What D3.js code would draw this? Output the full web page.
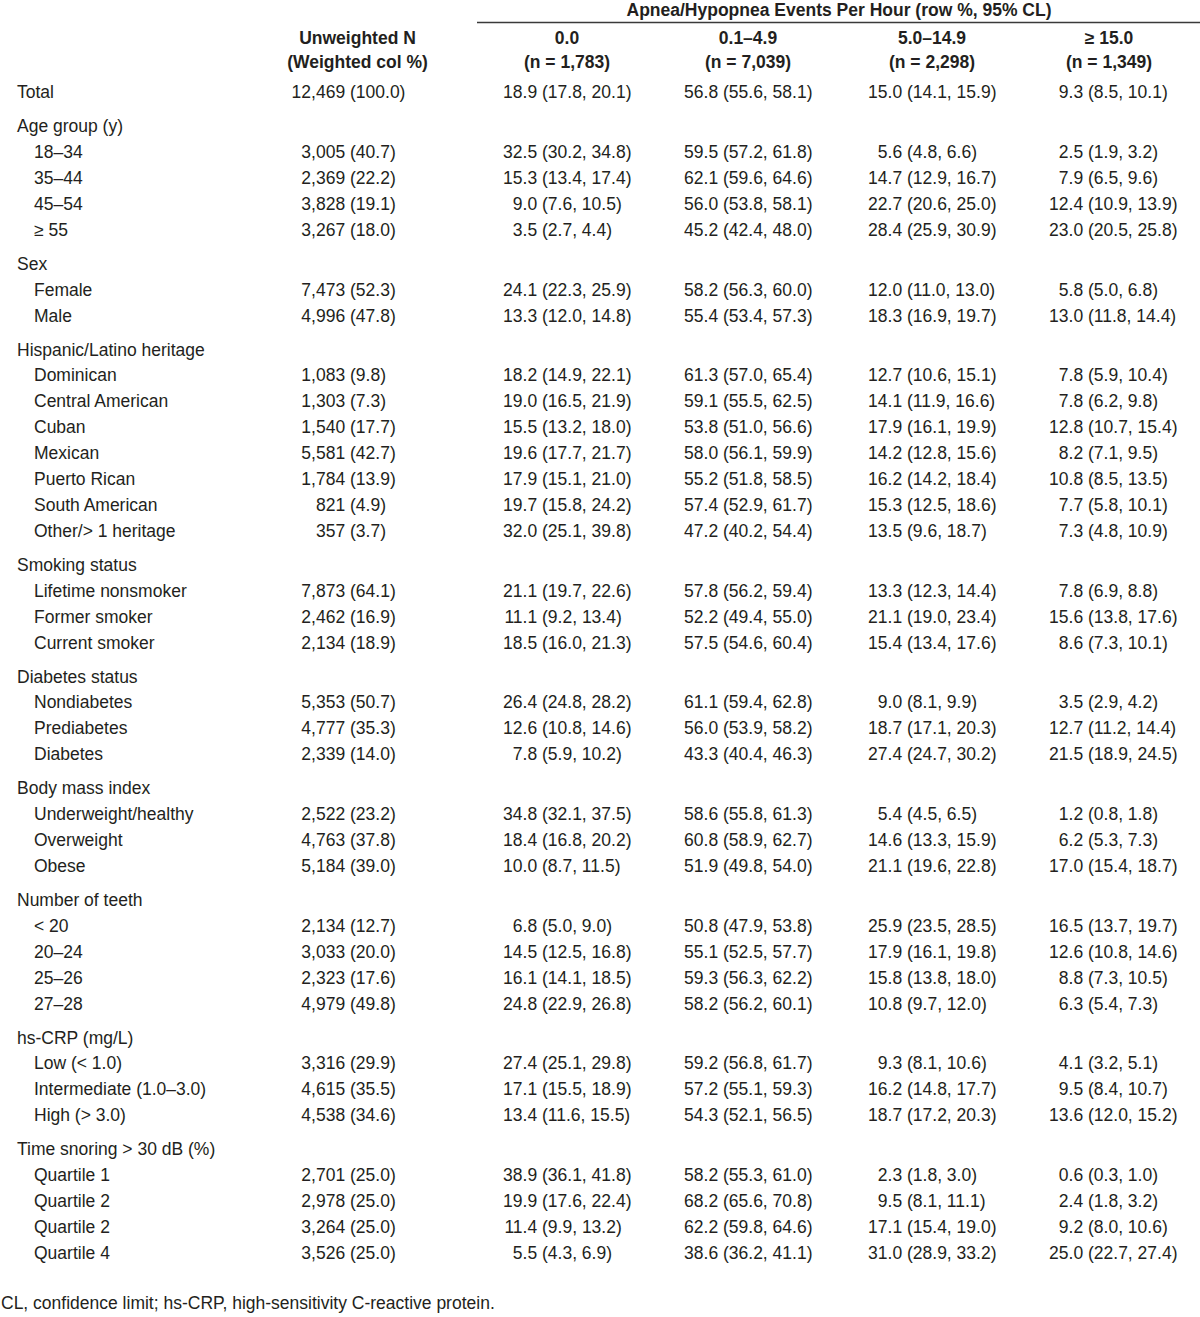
<!DOCTYPE html>
<html>
<head>
<meta charset="utf-8">
<script src="https://cdn.jsdelivr.net/npm/d3@7"></script>
<style>
  html, body { margin: 0; padding: 0; background: #fff; }
  svg text { font-family: "Liberation Sans", Arial, Helvetica, sans-serif; fill: #231f20; }
</style>
</head>
<body>
<svg id="chart" width="1200" height="1317"></svg>
<script>
// ---------- DATA ----------
const spannerTitle = "Apnea/Hypopnea Events Per Hour (row %, 95% CL)";
const nHeader = ["Unweighted N", "(Weighted col %)"];
const categories = ["0.0", "0.1–4.9", "5.0–14.9", "≥ 15.0"];
const categoryN = [1783, 7039, 2298, 1349];

const groupLabels = [
  "Age group (y)", "Sex", "Hispanic/Latino heritage", "Smoking status",
  "Diabetes status", "Body mass index", "Number of teeth", "hs-CRP (mg/L)",
  "Time snoring > 30 dB (%)"
];

const rowLabels = [
  "Total",
  "18–34", "35–44", "45–54", "≥ 55",
  "Female", "Male",
  "Dominican", "Central American", "Cuban", "Mexican", "Puerto Rican", "South American", "Other/> 1 heritage",
  "Lifetime nonsmoker", "Former smoker", "Current smoker",
  "Nondiabetes", "Prediabetes", "Diabetes",
  "Underweight/healthy", "Overweight", "Obese",
  "< 20", "20–24", "25–26", "27–28",
  "Low (< 1.0)", "Intermediate (1.0–3.0)", "High (> 3.0)",
  "Quartile 1", "Quartile 2", "Quartile 2", "Quartile 4"
];
// index into groupLabels (-1 = no group)
const rowGroup = [
  -1,
  0, 0, 0, 0,
  1, 1,
  2, 2, 2, 2, 2, 2, 2,
  3, 3, 3,
  4, 4, 4,
  5, 5, 5,
  6, 6, 6, 6,
  7, 7, 7,
  8, 8, 8, 8
];

const unweightedN = [
  12469,
  3005, 2369, 3828, 3267,
  7473, 4996,
  1083, 1303, 1540, 5581, 1784, 821, 357,
  7873, 2462, 2134,
  5353, 4777, 2339,
  2522, 4763, 5184,
  2134, 3033, 2323, 4979,
  3316, 4615, 4538,
  2701, 2978, 3264, 3526
];
const weightedPct = [
  100.0,
  40.7, 22.2, 19.1, 18.0,
  52.3, 47.8,
  9.8, 7.3, 17.7, 42.7, 13.9, 4.9, 3.7,
  64.1, 16.9, 18.9,
  50.7, 35.3, 14.0,
  23.2, 37.8, 39.0,
  12.7, 20.0, 17.6, 49.8,
  29.9, 35.5, 34.6,
  25.0, 25.0, 25.0, 25.0
];

// [estimate, lower CL, upper CL]
const ahi0 = [
  [18.9, 17.8, 20.1],
  [32.5, 30.2, 34.8], [15.3, 13.4, 17.4], [9.0, 7.6, 10.5], [3.5, 2.7, 4.4],
  [24.1, 22.3, 25.9], [13.3, 12.0, 14.8],
  [18.2, 14.9, 22.1], [19.0, 16.5, 21.9], [15.5, 13.2, 18.0], [19.6, 17.7, 21.7], [17.9, 15.1, 21.0], [19.7, 15.8, 24.2], [32.0, 25.1, 39.8],
  [21.1, 19.7, 22.6], [11.1, 9.2, 13.4], [18.5, 16.0, 21.3],
  [26.4, 24.8, 28.2], [12.6, 10.8, 14.6], [7.8, 5.9, 10.2],
  [34.8, 32.1, 37.5], [18.4, 16.8, 20.2], [10.0, 8.7, 11.5],
  [6.8, 5.0, 9.0], [14.5, 12.5, 16.8], [16.1, 14.1, 18.5], [24.8, 22.9, 26.8],
  [27.4, 25.1, 29.8], [17.1, 15.5, 18.9], [13.4, 11.6, 15.5],
  [38.9, 36.1, 41.8], [19.9, 17.6, 22.4], [11.4, 9.9, 13.2], [5.5, 4.3, 6.9]
];
const ahi01to49 = [
  [56.8, 55.6, 58.1],
  [59.5, 57.2, 61.8], [62.1, 59.6, 64.6], [56.0, 53.8, 58.1], [45.2, 42.4, 48.0],
  [58.2, 56.3, 60.0], [55.4, 53.4, 57.3],
  [61.3, 57.0, 65.4], [59.1, 55.5, 62.5], [53.8, 51.0, 56.6], [58.0, 56.1, 59.9], [55.2, 51.8, 58.5], [57.4, 52.9, 61.7], [47.2, 40.2, 54.4],
  [57.8, 56.2, 59.4], [52.2, 49.4, 55.0], [57.5, 54.6, 60.4],
  [61.1, 59.4, 62.8], [56.0, 53.9, 58.2], [43.3, 40.4, 46.3],
  [58.6, 55.8, 61.3], [60.8, 58.9, 62.7], [51.9, 49.8, 54.0],
  [50.8, 47.9, 53.8], [55.1, 52.5, 57.7], [59.3, 56.3, 62.2], [58.2, 56.2, 60.1],
  [59.2, 56.8, 61.7], [57.2, 55.1, 59.3], [54.3, 52.1, 56.5],
  [58.2, 55.3, 61.0], [68.2, 65.6, 70.8], [62.2, 59.8, 64.6], [38.6, 36.2, 41.1]
];
const ahi5to149 = [
  [15.0, 14.1, 15.9],
  [5.6, 4.8, 6.6], [14.7, 12.9, 16.7], [22.7, 20.6, 25.0], [28.4, 25.9, 30.9],
  [12.0, 11.0, 13.0], [18.3, 16.9, 19.7],
  [12.7, 10.6, 15.1], [14.1, 11.9, 16.6], [17.9, 16.1, 19.9], [14.2, 12.8, 15.6], [16.2, 14.2, 18.4], [15.3, 12.5, 18.6], [13.5, 9.6, 18.7],
  [13.3, 12.3, 14.4], [21.1, 19.0, 23.4], [15.4, 13.4, 17.6],
  [9.0, 8.1, 9.9], [18.7, 17.1, 20.3], [27.4, 24.7, 30.2],
  [5.4, 4.5, 6.5], [14.6, 13.3, 15.9], [21.1, 19.6, 22.8],
  [25.9, 23.5, 28.5], [17.9, 16.1, 19.8], [15.8, 13.8, 18.0], [10.8, 9.7, 12.0],
  [9.3, 8.1, 10.6], [16.2, 14.8, 17.7], [18.7, 17.2, 20.3],
  [2.3, 1.8, 3.0], [9.5, 8.1, 11.1], [17.1, 15.4, 19.0], [31.0, 28.9, 33.2]
];
const ahi15plus = [
  [9.3, 8.5, 10.1],
  [2.5, 1.9, 3.2], [7.9, 6.5, 9.6], [12.4, 10.9, 13.9], [23.0, 20.5, 25.8],
  [5.8, 5.0, 6.8], [13.0, 11.8, 14.4],
  [7.8, 5.9, 10.4], [7.8, 6.2, 9.8], [12.8, 10.7, 15.4], [8.2, 7.1, 9.5], [10.8, 8.5, 13.5], [7.7, 5.8, 10.1], [7.3, 4.8, 10.9],
  [7.8, 6.9, 8.8], [15.6, 13.8, 17.6], [8.6, 7.3, 10.1],
  [3.5, 2.9, 4.2], [12.7, 11.2, 14.4], [21.5, 18.9, 24.5],
  [1.2, 0.8, 1.8], [6.2, 5.3, 7.3], [17.0, 15.4, 18.7],
  [16.5, 13.7, 19.7], [12.6, 10.8, 14.6], [8.8, 7.3, 10.5], [6.3, 5.4, 7.3],
  [4.1, 3.2, 5.1], [9.5, 8.4, 10.7], [13.6, 12.0, 15.2],
  [0.6, 0.3, 1.0], [2.4, 1.8, 3.2], [9.2, 8.0, 10.6], [25.0, 22.7, 27.4]
];
const series = [ahi0, ahi01to49, ahi5to149, ahi15plus];
const footnote = "CL, confidence limit; hs-CRP, high-sensitivity C-reactive protein.";

// ---------- LAYOUT ----------
const svg = d3.select("#chart");
const FS = 17.5;
const fmtInt = d3.format(",");
const f1 = v => v.toFixed(1);

// column keys and scales
const colKeys = ["N", "c0", "c1", "c2", "c3"];
const headerX = d3.scaleOrdinal().domain(colKeys).range([357.5, 567, 748, 932, 1109]);
const parenX = d3.scaleOrdinal().domain(colKeys).range([350, 542, 723, 907, 1088]);

// vertical layout: units (item row = 1, new group header adds extra gap)
const groupGap = 34 / 25.9;
const rows = [];
let u = 0;
let prevGroup = -1;
rowLabels.forEach((lab, i) => {
  const g = rowGroup[i];
  if (i > 0) {
    if (g !== prevGroup) {
      u += groupGap;
      rows.push({ type: "group", label: groupLabels[g], u });
    }
    u += (g !== prevGroup) ? 1 : 1;
  }
  rows.push({ type: "row", i, label: lab, u, indent: g >= 0 });
  prevGroup = g;
});
// group header units were pushed before its first row increment; fix positions
// (a group header sits one row unit above its first item)
rows.forEach((r, k) => { if (r.type === "group") r.u = rows[k + 1].u - 1; });

const maxU = d3.max(rows, r => r.u);
const y = d3.scaleLinear().domain([0, maxU]).range([92, 92 + maxU * 25.9]);

// ---------- HEADER ----------
const head = svg.append("g").attr("font-size", FS).attr("font-weight", "bold");
head.append("text").attr("x", 839).attr("y", 10).attr("dy", "0.35em")
  .attr("text-anchor", "middle").text(spannerTitle);
svg.append("line").attr("x1", 477).attr("x2", 1200).attr("y1", 22.5).attr("y2", 22.5)
  .attr("stroke", "#3a3a3a").attr("stroke-width", 1.5);

head.selectAll("text.nh").data(nHeader).join("text").attr("class", "nh")
  .attr("x", headerX("N")).attr("y", (d, i) => 38 + i * 24).attr("dy", "0.35em")
  .attr("text-anchor", "middle").text(d => d);

categories.forEach((c, j) => {
  const k = colKeys[j + 1];
  head.append("text").attr("x", headerX(k)).attr("y", 38).attr("dy", "0.35em")
    .attr("text-anchor", "middle").text(c);
  head.append("text").attr("x", headerX(k)).attr("y", 62).attr("dy", "0.35em")
    .attr("text-anchor", "middle").text("(n = " + fmtInt(categoryN[j]) + ")");
});

// ---------- BODY ----------
const body = svg.append("g").attr("font-size", FS);

// labels
body.selectAll("text.lab").data(rows).join("text").attr("class", "lab")
  .attr("x", d => d.type === "group" || !d.indent ? 17 : 34)
  .attr("y", d => y(d.u)).attr("dy", "0.35em")
  .text(d => d.label);

const dataRows = rows.filter(r => r.type === "row");

function alignAtParen(sel, key) {
  sel.each(function () {
    const s = this.textContent;
    const idx = s.indexOf("(");
    const w = idx > 0 ? this.getSubStringLength(0, idx) : 0;
    d3.select(this).attr("x", parenX(key) - w);
  });
}

// unweighted N column
const nCells = body.selectAll("text.n").data(dataRows).join("text").attr("class", "n")
  .attr("y", d => y(d.u)).attr("dy", "0.35em")
  .text(d => fmtInt(unweightedN[d.i]) + " (" + f1(weightedPct[d.i]) + ")");
alignAtParen(nCells, "N");

// AHI category columns
series.forEach((ser, j) => {
  const key = colKeys[j + 1];
  const cells = body.selectAll("text.s" + j).data(dataRows).join("text").attr("class", "s" + j)
    .attr("y", d => y(d.u)).attr("dy", "0.35em")
    .text(d => { const v = ser[d.i]; return f1(v[0]) + " (" + f1(v[1]) + ", " + f1(v[2]) + ")"; });
  alignAtParen(cells, key);
});

// footnote
svg.append("text").attr("font-size", FS).attr("x", 1).attr("y", 1303).attr("dy", "0.35em")
  .text(footnote);
</script>
</body>
</html>
